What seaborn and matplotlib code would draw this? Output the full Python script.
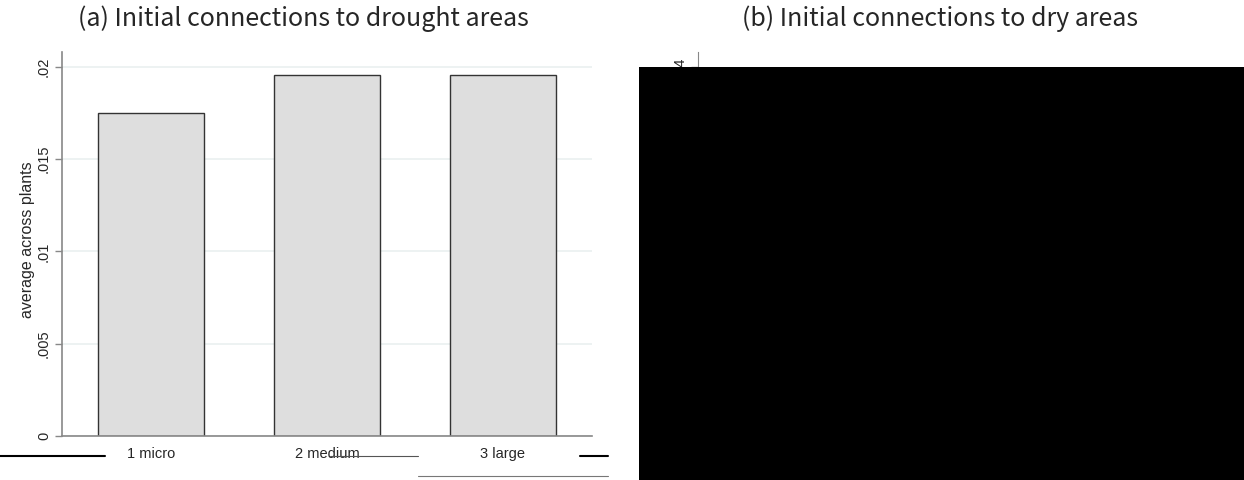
import numpy as np
import pandas as pd
import seaborn as sns
import matplotlib
matplotlib.use('Agg')
import matplotlib.pyplot as plt
from matplotlib.patches import Rectangle
from matplotlib.lines import Line2D

# panel (a) values
size_classes = ['1 micro', '2 medium', '3 large']
drought_share = [0.01749, 0.01955, 0.01955]
ytick_vals = [0, 0.005, 0.01, 0.015, 0.02]
ytick_text = ['0', '.005', '.01', '.015', '.02']
titles = ['(a) Initial connections to drought areas', '(b) Initial connections to dry areas']

sns.set_style('white')
plt.rcParams['font.family'] = ['Liberation Sans', 'DejaVu Sans']

W, H = 1244, 480
fig = plt.figure(figsize=(W / 100, H / 100), dpi=100)

def px_box(x0, y0, x1, y1):
    return [x0 / W, 1 - y1 / H, (x1 - x0) / W, (y1 - y0) / H]

df = pd.DataFrame({'size': size_classes, 'share': drought_share})

ax = fig.add_axes(px_box(62, 52, 592, 436))
sns.barplot(data=df, x='size', y='share', ax=ax, color='#dedede', saturation=1,
            width=0.6, edgecolor='#333333', linewidth=1.0, zorder=2)
ax.set_xlim(-0.506, 2.506)
ax.set_ylim(0, 0.0208)
ax.set_yticks(ytick_vals)
ax.set_yticklabels(ytick_text, rotation=90, va='center', fontsize=10.5)
ax.yaxis.grid(True, color='#eaf0f0', linewidth=1.2, zorder=0)
ax.set_axisbelow(True)
ax.tick_params(axis='y', length=5, width=1, color='#888888', pad=3, direction='out', left=True)
ax.tick_params(axis='x', length=0, labelsize=10.5, pad=8)
ax.set_xlabel('')
ax.set_ylabel('average across plants', fontsize=11.5)
ax.yaxis.set_label_coords(-0.051, 0.51)
for s in ['top', 'right']:
    ax.spines[s].set_visible(False)
ax.spines['left'].set_color('#888888')
ax.spines['bottom'].set_color('#888888')
ax.spines['left'].set_linewidth(1.2)
ax.spines['bottom'].set_linewidth(1.2)

# panel (b): only the axis stub is visible above the black block
ax2 = fig.add_axes(px_box(698, 52, 1244, 436))
ax2.set_ylim(0, 0.0416)
ax2.set_yticks([0.04])
ax2.set_yticklabels(['.04'], rotation=90, va='center', fontsize=10.5)
ax2.set_xticks([])
ax2.tick_params(axis='y', length=5, width=1, color='#888888', left=True)
for s in ['top', 'right', 'bottom']:
    ax2.spines[s].set_visible(False)
ax2.spines['left'].set_color('#888888')

fig.patches.append(Rectangle((639 / W, 0), (W - 639) / W, (H - 67) / H,
                             transform=fig.transFigure, facecolor='black',
                             edgecolor='none', zorder=10))

# stray rendering strokes along the bottom
for x0, x1, y, c, lw in [(0, 105, 456, 'black', 1.5), (330, 418, 456, '#555555', 0.8),
                         (418, 608, 476, '#777777', 0.8), (580, 608, 456, 'black', 1.5)]:
    fig.lines.append(Line2D([x0 / W, x1 / W], [1 - y / H, 1 - y / H], color=c, lw=lw,
                            transform=fig.transFigure))

title_font = ['Noto Sans CJK KR', 'DejaVu Sans']
fig.text(303 / W, 1 - 19 / H, titles[0], ha='center', va='center', fontsize=18,
         family=title_font)
fig.text(940 / W, 1 - 19 / H, titles[1], ha='center', va='center', fontsize=18,
         family=title_font)

fig.savefig('out.png', dpi=100)
